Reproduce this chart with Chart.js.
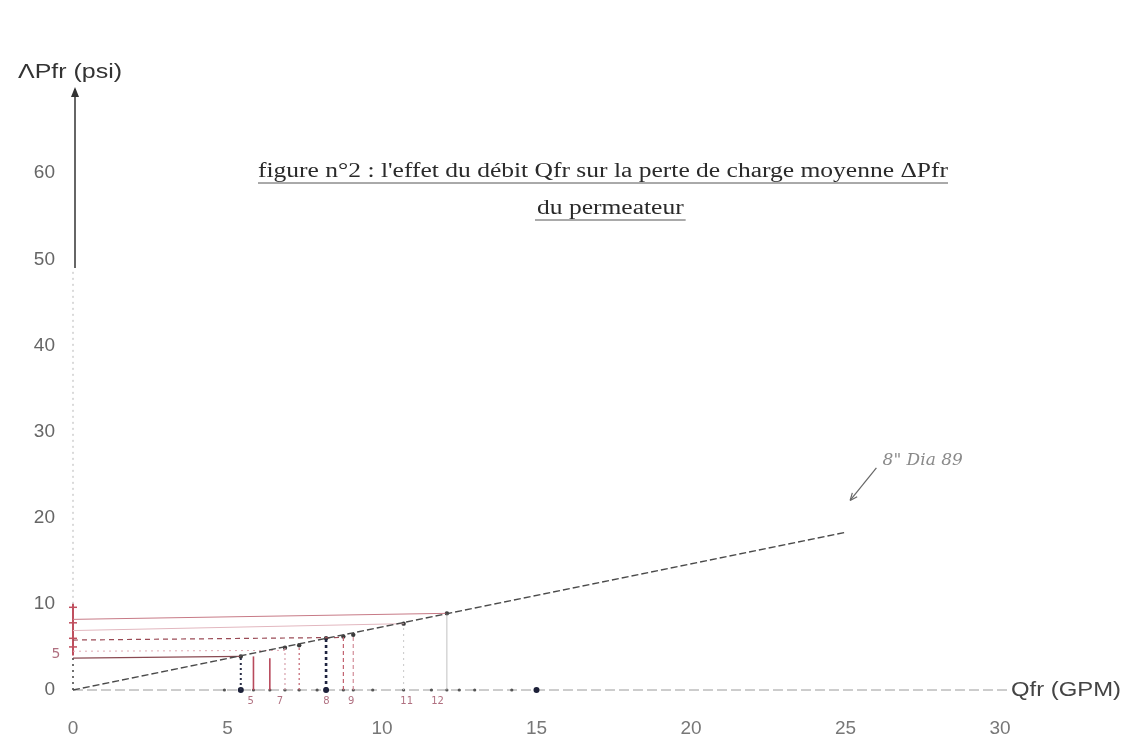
<!DOCTYPE html>
<html>
<head>
<meta charset="utf-8">
<script src="https://cdn.jsdelivr.net/npm/chart.js@4.4.1/dist/chart.umd.min.js"></script>
<style>
  html, body { margin:0; padding:0; background:#fff; }
  #wrap { width:1132px; height:754px; }
</style>
</head>
<body>
<div id="wrap"><canvas id="chart1" width="1132" height="754"></canvas></div>
<script>
// graduations
const qTicks = [0, 5, 10, 15, 20, 25, 30];
const dpTicks = [0, 10, 20, 30, 40, 50, 60];

// droite 8" Dia 89
const lineQ = [0, 25];
const lineDP = [0, 18.3];

const pointQ = [5.43, 6.86, 7.32, 8.19, 8.75, 9.07, 10.7, 12.1];
const pointDP = [3.9, 4.9, 5.2, 6.0, 6.2, 6.4, 7.7, 8.9];

// rappels verticaux vers l'axe Qfr
const dropQ = [5.43, 5.84, 6.37, 6.86, 7.32, 8.19, 8.75, 9.07, 10.7, 12.1];
const dropDP = [3.9, 3.9, 3.7, 4.9, 5.2, 6.0, 6.2, 6.4, 7.7, 8.9];

// rappels horizontaux depuis l'axe ΔPfr
const hStartDP = [8.2, 6.9, 5.8, 4.5, 3.7];
const hEndQ = [12.1, 10.7, 8.75, 6.9, 5.43];
const hEndDP = [8.9, 7.7, 6.1, 4.6, 3.9];

// marques sur l'axe Qfr
const axisQ = [4.9, 5.43, 5.84, 6.37, 6.86, 7.32, 7.9, 8.19, 8.75, 9.07, 9.7, 10.7, 11.6, 12.1, 12.5, 13.0, 14.2, 15.0];
const bigDots = [5.43, 8.19, 15.0];

// chiffres manuscrits sous l'axe
const handQ = [5.75, 6.7, 8.2, 9.0, 10.8, 11.8];
const handLabels = ['5', '7', '8', '9', '11', '12'];

// styles des rappels
const dropStyle = [
  { c:'#2b3048', d:[2,3], w:2 },
  { c:'#b84a5c', d:[], w:1.6 },
  { c:'#b84a5c', d:[], w:1.6 },
  { c:'#d7a0ab', d:[2,3], w:1.2 },
  { c:'#c2626f', d:[2,3], w:1.2 },
  { c:'#1f2440', d:[3,3], w:2.6 },
  { c:'#c2626f', d:[4,3], w:1.2 },
  { c:'#d28e9a', d:[4,3], w:1.2 },
  { c:'#c9c9c9', d:[2,4], w:1 },
  { c:'#b0b0b0', d:[], w:0.8 }
];
const hStyle = [
  { c:'#c77a86', d:[], w:1 },
  { c:'#e2b7bf', d:[], w:1 },
  { c:'#9a4a55', d:[5,4], w:1.2 },
  { c:'#e0a9b3', d:[2,4], w:1 },
  { c:'#8a4a52', d:[], w:1.2 }
];

const datasets = [];

// droite principale
datasets.push({
  data: lineQ.map((q, i) => ({ x: q, y: lineDP[i] })),
  showLine: true, borderColor:'#4a4a4a', borderWidth:1.4, borderDash:[7,3],
  pointRadius:0, clip:false
});

hStartDP.forEach((v, i) => {
  datasets.push({
    data: [{ x: 0, y: v }, { x: hEndQ[i], y: hEndDP[i] }],
    showLine: true, borderColor: hStyle[i].c, borderWidth: hStyle[i].w,
    borderDash: hStyle[i].d, pointRadius: 0, clip:false
  });
});

dropQ.forEach((q, i) => {
  datasets.push({
    data: [{ x: q, y: 0 }, { x: q, y: dropDP[i] }],
    showLine: true, borderColor: dropStyle[i].c, borderWidth: dropStyle[i].w,
    borderDash: dropStyle[i].d, pointRadius: 0, clip:false
  });
});

datasets.push({
  data: pointQ.map((q, i) => ({ x: q, y: pointDP[i] })),
  pointRadius: 2.2, pointBackgroundColor:'#3a3a3a', pointBorderWidth:0, clip:false
});

datasets.push({
  data: axisQ.map(q => ({ x: q, y: 0 })),
  pointRadius: axisQ.map(q => bigDots.includes(q) ? 3 : 1.6),
  pointBackgroundColor: axisQ.map(q => bigDots.includes(q) ? '#1c2038' : '#555'),
  pointBorderWidth: 0, clip:false
});

// texte étiré horizontalement (sx), renvoie la largeur finale
function scaledText(ctx, txt, left, cy, sx, font, color) {
  ctx.font = font;
  const w = ctx.measureText(txt).width;
  ctx.save();
  ctx.translate(left, cy); ctx.scale(sx, 1);
  ctx.fillStyle = color; ctx.textBaseline = 'middle'; ctx.textAlign = 'left';
  ctx.fillText(txt, 0, 0);
  ctx.restore();
  return w * sx;
}
function fitText(ctx, txt, left, width, cy, font, color) {
  ctx.font = font;
  return scaledText(ctx, txt, left, cy, width / ctx.measureText(txt).width, font, color);
}

const deco = {
  id: 'deco',
  beforeDatasetsDraw(chart) {
    const ctx = chart.ctx;
    const xs = chart.scales.x, ys = chart.scales.y;
    const x0 = xs.getPixelForValue(0);
    ctx.save();
    // axe Qfr
    ctx.strokeStyle = '#9a9a9a'; ctx.lineWidth = 1; ctx.setLineDash([10,4]);
    ctx.beginPath(); ctx.moveTo(x0, ys.getPixelForValue(0));
    ctx.lineTo(xs.getPixelForValue(30.3), ys.getPixelForValue(0)); ctx.stroke();
    // axe ΔPfr : parties pointillées
    ctx.setLineDash([2,4]); ctx.strokeStyle = '#b5b5b5';
    ctx.beginPath(); ctx.moveTo(x0, ys.getPixelForValue(10)); ctx.lineTo(x0, ys.getPixelForValue(49)); ctx.stroke();
    ctx.strokeStyle = '#333'; ctx.lineWidth = 1.4;
    ctx.beginPath(); ctx.moveTo(x0, ys.getPixelForValue(0)); ctx.lineTo(x0, ys.getPixelForValue(4)); ctx.stroke();
    ctx.setLineDash([]); ctx.strokeStyle = '#c0505f'; ctx.lineWidth = 2;
    ctx.beginPath(); ctx.moveTo(x0, ys.getPixelForValue(4)); ctx.lineTo(x0, ys.getPixelForValue(10)); ctx.stroke();
    // partie pleine avec flèche
    ctx.strokeStyle = '#333'; ctx.lineWidth = 1.5;
    const yTop = ys.getPixelForValue(70);
    ctx.beginPath(); ctx.moveTo(x0 + 2, ys.getPixelForValue(49)); ctx.lineTo(x0 + 2, yTop + 2); ctx.stroke();
    ctx.fillStyle = '#333';
    ctx.beginPath(); ctx.moveTo(x0 + 2, yTop); ctx.lineTo(x0 - 2, yTop + 10); ctx.lineTo(x0 + 6, yTop + 10); ctx.closePath(); ctx.fill();
    // petites croix rouges sur l'axe
    ctx.strokeStyle = '#c0505f'; ctx.lineWidth = 1.5;
    [5, 6, 7.8, 9.6].forEach(v => {
      const py = ys.getPixelForValue(v);
      ctx.beginPath(); ctx.moveTo(x0 - 4, py); ctx.lineTo(x0 + 4, py); ctx.stroke();
    });
    ctx.restore();
  },
  afterDatasetsDraw(chart) {
    const ctx = chart.ctx;
    const xs = chart.scales.x, ys = chart.scales.y;
    ctx.save();
    // titre souligné
    const serif = '20px "Liberation Serif", serif';
    const t1 = 'figure n°2 : l\'effet du débit Qfr sur la perte de charge moyenne ΔPfr';
    ctx.font = serif;
    const sx = 690 / ctx.measureText(t1).width;
    scaledText(ctx, t1, 258, 172, sx, serif, '#2a2a2a');
    const w2 = scaledText(ctx, 'du permeateur', 537, 209, sx, serif, '#2a2a2a');
    ctx.strokeStyle = '#555'; ctx.lineWidth = 1;
    ctx.beginPath(); ctx.moveTo(258, 183); ctx.lineTo(948, 183); ctx.stroke();
    ctx.beginPath(); ctx.moveTo(535, 220); ctx.lineTo(539 + w2, 220); ctx.stroke();

    // titres d'axes
    fitText(ctx, 'ΛPfr (psi)', 18, 104, 72, '20px "Liberation Sans", Arial, sans-serif', '#333');
    fitText(ctx, 'Qfr (GPM)', 1011, 110, 690, '20px "Liberation Sans", Arial, sans-serif', '#444');

    // annotation manuscrite
    ctx.font = 'italic 17px "DejaVu Serif", serif';
    ctx.fillStyle = '#8a8a8a'; ctx.textBaseline = 'middle'; ctx.textAlign = 'left';
    ctx.fillText('8" Dia 89', xs.getPixelForValue(26.2), ys.getPixelForValue(26.6));
    const ax1 = xs.getPixelForValue(26.0), ay1 = ys.getPixelForValue(25.8);
    const ax2 = xs.getPixelForValue(25.15), ay2 = ys.getPixelForValue(22.0);
    ctx.strokeStyle = '#666'; ctx.lineWidth = 1.2;
    ctx.beginPath(); ctx.moveTo(ax1, ay1); ctx.lineTo(ax2, ay2); ctx.stroke();
    const ang = Math.atan2(ay2 - ay1, ax2 - ax1);
    ctx.beginPath();
    ctx.moveTo(ax2, ay2);
    ctx.lineTo(ax2 - 8 * Math.cos(ang - 0.4), ay2 - 8 * Math.sin(ang - 0.4));
    ctx.moveTo(ax2, ay2);
    ctx.lineTo(ax2 - 8 * Math.cos(ang + 0.4), ay2 - 8 * Math.sin(ang + 0.4));
    ctx.stroke();

    // chiffres manuscrits
    ctx.font = '10px "DejaVu Sans", sans-serif';
    ctx.fillStyle = '#b07080'; ctx.textAlign = 'center';
    handQ.forEach((q, i) => ctx.fillText(handLabels[i], xs.getPixelForValue(q), ys.getPixelForValue(-1.3)));
    ctx.font = '14px "DejaVu Sans", sans-serif';
    ctx.fillText('5', xs.getPixelForValue(-0.55), ys.getPixelForValue(4.1));
    ctx.restore();
  }
};

new Chart(document.getElementById('chart1'), {
  type: 'scatter',
  data: { datasets },
  options: {
    responsive: false,
    animation: false,
    layout: { padding: { top: 87, right: 132, left: 0, bottom: 0 } },
    plugins: { legend: { display: false }, tooltip: { enabled: false } },
    scales: {
      x: {
        type: 'linear', min: 0, max: 30,
        afterBuildTicks: s => { s.ticks = qTicks.map(v => ({ value: v })); },
        afterFit: s => { s.height = 64; },
        grid: { display: false, drawTicks: false },
        border: { display: false },
        ticks: { color: '#777', padding: 27, maxRotation: 0, font: { family: '"Liberation Sans", Arial, sans-serif', size: 19 } }
      },
      y: {
        type: 'linear', min: 0, max: 70,
        afterBuildTicks: s => { s.ticks = dpTicks.map(v => ({ value: v })); },
        afterFit: s => { s.width = 73; },
        grid: { display: false, drawTicks: false },
        border: { display: false },
        ticks: { color: '#666', padding: 18, font: { family: '"Liberation Sans", Arial, sans-serif', size: 19 } }
      }
    }
  },
  plugins: [deco]
});
</script>
</body>
</html>
